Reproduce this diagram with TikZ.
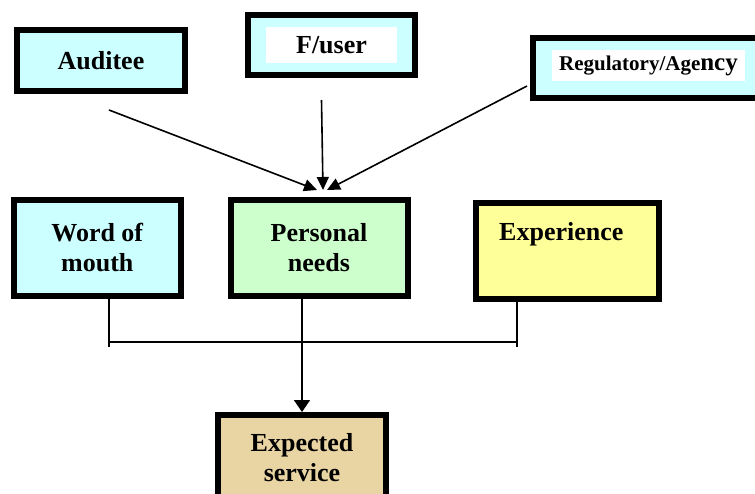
\documentclass[tikz,border=0pt]{standalone}
\usepackage{fontspec}
\setmainfont{Liberation Serif}
\usetikzlibrary{arrows.meta}
\definecolor{boxcyan}{RGB}{204,255,255}
\definecolor{boxgreen}{RGB}{204,255,204}
\definecolor{boxyellow}{RGB}{255,255,153}
\definecolor{boxtan}{RGB}{233,212,163}
\tikzset{
  box/.style={draw=black, line width=6pt, inner sep=0pt, align=center,
    font=\fontsize{26}{30}\selectfont\bfseries},
  conn/.style={line width=1.6pt},
  arr/.style={line width=1.6pt, -{Triangle[length=13pt,width=12pt]}},
  arrdown/.style={line width=1.6pt, -{Triangle[length=12pt,width=16pt]}}
}
\begin{document}
\begin{tikzpicture}[x=1pt,y=-1pt]
\useasboundingbox (0,0) rectangle (755,493);
\clip (0,0) rectangle (755,493);

% top row
\node[box, fill=boxcyan, minimum width=168pt, minimum height=61pt] (auditee) at (101,60.5) {Auditee};
\node[box, fill=boxcyan, minimum width=167pt, minimum height=60pt] (fuser) at (331.5,45) {};
\node[fill=white, inner sep=0pt, minimum width=131pt, minimum height=36pt,
  font=\fontsize{26}{30}\selectfont\bfseries] (fuserlabel) at (fuser) {F/user};
\node[box, fill=boxcyan, minimum width=231pt, minimum height=60pt] (agency) at (648.5,68) {};
\node[fill=white, inner sep=0pt, minimum width=193pt, minimum height=31pt,
  font=\bfseries] (agencylabel) at (648.5,65.5)
  {{\fontsize{21}{24}\selectfont Regulatory/Age}{\fontsize{25}{28}\selectfont ncy}};

% middle row
\node[box, fill=boxcyan, minimum width=167pt, minimum height=96pt] (wom) at (97.3,248) {Word of\\mouth};
\node[box, fill=boxgreen, minimum width=177pt, minimum height=96pt] (needs) at (319,248) {Personal\\needs};
\node[box, fill=boxyellow, minimum width=183pt, minimum height=96pt] (exper) at (567.3,251)
  {Experience\hspace*{12pt}\\\strut};

% bottom
\node[box, fill=boxtan, minimum width=168pt, minimum height=86pt] (expected) at (302,458) {Expected\\service};

% arrows into personal needs
\draw[arr] ([shift={(8pt,-16pt)}]auditee.south) -- ([shift={(-2pt,7pt)}]needs.north);
\draw[arr] ([shift={(-10pt,-22pt)}]fuser.south) -- ([shift={(4pt,7pt)}]needs.north);
\draw[arr] ([shift={(-3pt,-18pt)}]agency.west) -- ([shift={(8pt,7pt)}]needs.north);

% bus below middle row
\coordinate (busL) at (109,342);
\coordinate (busR) at (517,342);
\draw[conn] (busL |- wom.south) -- ([yshift=-4.5pt]busL);
\draw[conn] (busR |- exper.south) -- ([yshift=-4.5pt]busR);
\draw[conn] (busL) -- (busR);
\draw[arrdown] (needs.south -| expected.north) -- (expected.north);
\end{tikzpicture}
\end{document}
